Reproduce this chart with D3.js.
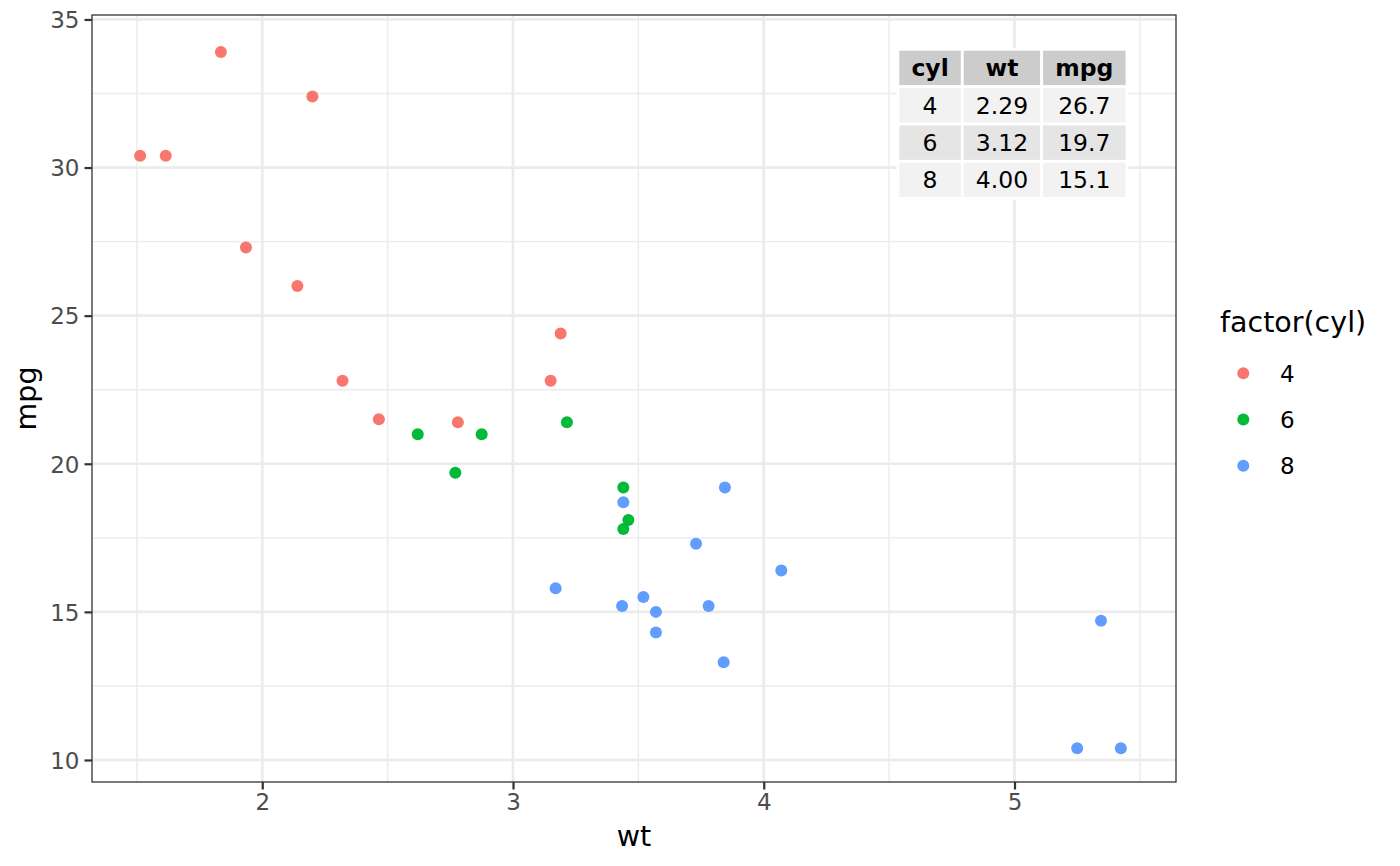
<!DOCTYPE html>
<html>
<head>
<meta charset="utf-8">
<script src="https://cdn.jsdelivr.net/npm/d3@7"></script>
<style>
    body { margin: 0; background: #ffffff; }
    text { font-family: "DejaVu Sans", sans-serif; }
</style>
</head>
<body>
<script>
//wrap everything in an anonymous function so nothing is global
(function () {

    //mtcars columns, in data order
    var carWt = [2.620, 2.875, 2.320, 3.215, 3.440, 3.460, 3.570, 3.190, 3.150, 3.440, 3.440,
        4.070, 3.730, 3.780, 5.250, 5.424, 5.345, 2.200, 1.615, 1.835, 2.465, 3.520,
        3.435, 3.840, 3.845, 1.935, 2.140, 1.513, 3.170, 2.770, 3.570, 2.780];
    var carMpg = [21.0, 21.0, 22.8, 21.4, 18.7, 18.1, 14.3, 24.4, 22.8, 19.2, 17.8,
        16.4, 17.3, 15.2, 10.4, 10.4, 14.7, 32.4, 30.4, 33.9, 21.5, 15.5,
        15.2, 13.3, 19.2, 27.3, 26.0, 30.4, 15.8, 19.7, 15.0, 21.4];
    var carCyl = ["6", "6", "4", "6", "8", "6", "8", "4", "4", "6", "6",
        "8", "8", "8", "8", "8", "8", "4", "4", "4", "4", "8",
        "8", "8", "8", "4", "4", "4", "8", "6", "8", "4"];

    //legend levels and colours
    var cylLevels = ["4", "6", "8"];
    var cylColors = ["#F8766D", "#00BA38", "#619CFF"];

    //summary table
    var tableHeader = ["cyl", "wt", "mpg"];
    var tableCyl = ["4", "6", "8"];
    var tableWt = ["2.29", "3.12", "4.00"];
    var tableMpg = ["26.7", "19.7", "15.1"];

    //axis ticks
    var xTicks = [2, 3, 4, 5];
    var xMinor = [1.5, 2.5, 3.5, 4.5, 5.5];
    var yTicks = [10, 15, 20, 25, 30, 35];
    var yMinor = [12.5, 17.5, 22.5, 27.5, 32.5];

    window.onload = setChart();

    function setChart() {

        //frame dimensions
        var width = 1400,
            height = 866,
            panelLeft = 92,
            panelRight = 1176,
            panelTop = 15,
            panelBottom = 782;

        var svg = d3.select("body")
            .append("svg")
            .attr("width", width)
            .attr("height", height);

        svg.append("rect")
            .attr("width", width)
            .attr("height", height)
            .attr("fill", "#ffffff");

        //scales (domains follow ggplot's 5% expansion)
        var x = d3.scaleLinear()
            .domain([1.321, 5.644])
            .range([panelLeft, panelRight]);

        var y = d3.scaleLinear()
            .domain([9.257, 35.15])
            .range([panelBottom, panelTop]);

        var color = d3.scaleOrdinal()
            .domain(cylLevels)
            .range(cylColors);

        //minor grid
        svg.append("g").selectAll("line")
            .data(xMinor)
            .enter()
            .append("line")
            .attr("x1", function (d) { return x(d); })
            .attr("x2", function (d) { return x(d); })
            .attr("y1", panelTop)
            .attr("y2", panelBottom)
            .attr("stroke", "#EBEBEB")
            .attr("stroke-width", 1.4);

        svg.append("g").selectAll("line")
            .data(yMinor)
            .enter()
            .append("line")
            .attr("x1", panelLeft)
            .attr("x2", panelRight)
            .attr("y1", function (d) { return y(d); })
            .attr("y2", function (d) { return y(d); })
            .attr("stroke", "#EBEBEB")
            .attr("stroke-width", 1.4);

        //major grid
        svg.append("g").selectAll("line")
            .data(xTicks)
            .enter()
            .append("line")
            .attr("x1", function (d) { return x(d); })
            .attr("x2", function (d) { return x(d); })
            .attr("y1", panelTop)
            .attr("y2", panelBottom)
            .attr("stroke", "#EBEBEB")
            .attr("stroke-width", 2.7);

        svg.append("g").selectAll("line")
            .data(yTicks)
            .enter()
            .append("line")
            .attr("x1", panelLeft)
            .attr("x2", panelRight)
            .attr("y1", function (d) { return y(d); })
            .attr("y2", function (d) { return y(d); })
            .attr("stroke", "#EBEBEB")
            .attr("stroke-width", 2.7);

        //points
        svg.append("g").selectAll("circle")
            .data(carWt)
            .enter()
            .append("circle")
            .attr("cx", function (d) { return x(d); })
            .attr("cy", function (d, i) { return y(carMpg[i]); })
            .attr("r", 6)
            .attr("fill", function (d, i) { return color(carCyl[i]); });

        //summary table
        setTable(svg);

        //panel border
        svg.append("rect")
            .attr("x", panelLeft)
            .attr("y", panelTop)
            .attr("width", panelRight - panelLeft)
            .attr("height", panelBottom - panelTop)
            .attr("fill", "none")
            .attr("stroke", "#333333")
            .attr("stroke-width", 1.3);

        //axes
        var xAxis = d3.axisBottom(x)
            .tickValues(xTicks)
            .tickSize(7.5)
            .tickPadding(4)
            .tickFormat(d3.format("d"));

        var yAxis = d3.axisLeft(y)
            .tickValues(yTicks)
            .tickSize(7.5)
            .tickPadding(5)
            .tickFormat(d3.format("d"));

        var gx = svg.append("g")
            .attr("transform", "translate(0," + panelBottom + ")")
            .call(xAxis);

        var gy = svg.append("g")
            .attr("transform", "translate(" + panelLeft + ",0)")
            .call(yAxis);

        [gx, gy].forEach(function (g) {
            g.select(".domain").remove();
            g.selectAll(".tick line")
                .attr("stroke", "#333333")
                .attr("stroke-width", 2.2);
            g.selectAll(".tick text")
                .attr("fill", "#4D4D4D")
                .style("font-size", "23px")
                .style("font-family", "DejaVu Sans");
        });
        gx.selectAll(".tick text").attr("dy", "0.71em");
        gy.selectAll(".tick text").attr("dy", "0.36em");

        //axis titles
        svg.append("text")
            .attr("x", (panelLeft + panelRight) / 2)
            .attr("y", 846)
            .attr("text-anchor", "middle")
            .style("font-size", "28.5px")
            .text("wt");

        svg.append("text")
            .attr("transform", "translate(36," + (panelTop + panelBottom) / 2 + ") rotate(-90)")
            .attr("text-anchor", "middle")
            .style("font-size", "28.5px")
            .text("mpg");

        //legend
        setLegend(svg, color);
    };

    //table drawn inside the panel, gridExtra ttheme_default look
    function setTable(svg) {
        var colEdges = [897.9, 962.3, 1041.7, 1127],
            rowEdges = [49.3, 86.6, 124, 161.3, 198.3];

        var rows = [tableHeader];
        tableCyl.forEach(function (d, i) {
            rows.push([tableCyl[i], tableWt[i], tableMpg[i]]);
        });

        var rowFills = ["#CCCCCC", "#F2F2F2", "#E5E5E5", "#F2F2F2"];

        var table = svg.append("g").attr("class", "table");

        rows.forEach(function (row, r) {
            row.forEach(function (cell, c) {
                table.append("rect")
                    .attr("x", colEdges[c])
                    .attr("y", rowEdges[r])
                    .attr("width", colEdges[c + 1] - colEdges[c])
                    .attr("height", rowEdges[r + 1] - rowEdges[r])
                    .attr("fill", rowFills[r])
                    .attr("stroke", "#ffffff")
                    .attr("stroke-width", 2.8);

                table.append("text")
                    .attr("x", (colEdges[c] + colEdges[c + 1]) / 2)
                    .attr("y", (rowEdges[r] + rowEdges[r + 1]) / 2)
                    .attr("dy", "0.36em")
                    .attr("text-anchor", "middle")
                    .style("font-size", "23.5px")
                    .style("font-weight", r == 0 ? "bold" : "normal")
                    .attr("fill", "#000000")
                    .text(cell);
            });
        });
    };

    function setLegend(svg, color) {
        var legend = svg.append("g").attr("class", "legend");

        legend.append("text")
            .attr("x", 1220)
            .attr("y", 331.5)
            .style("font-size", "28.5px")
            .text("factor(cyl)");

        var keyY = d3.scalePoint()
            .domain(cylLevels)
            .range([373.3, 465.7]);

        legend.selectAll("circle")
            .data(cylLevels)
            .enter()
            .append("circle")
            .attr("cx", 1243.3)
            .attr("cy", function (d) { return keyY(d); })
            .attr("r", 6)
            .attr("fill", function (d) { return color(d); });

        legend.selectAll(".label")
            .data(cylLevels)
            .enter()
            .append("text")
            .attr("class", "label")
            .attr("x", 1280)
            .attr("y", function (d) { return keyY(d); })
            .attr("dy", "0.36em")
            .style("font-size", "23px")
            .text(function (d) { return d; });
    };

})();
</script>
</body>
</html>
